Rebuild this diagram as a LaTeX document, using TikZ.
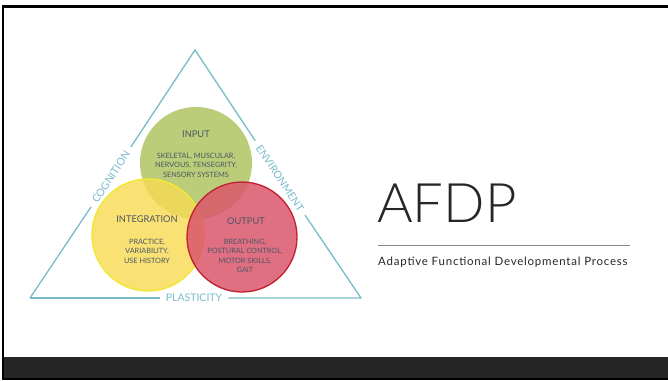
\documentclass[tikz,border=0pt]{standalone}
\usepackage{fontspec}
\setmainfont{Lato}
\newfontfamily\thinfont{Lato Light}
\usetikzlibrary{positioning}

\definecolor{barcolor}{HTML}{262626}
\definecolor{sideblue}{HTML}{78BCCB}
\definecolor{textslate}{HTML}{4A5664}
\definecolor{inputgreen}{HTML}{B4C86A}
\definecolor{integyellow}{HTML}{F8DA52}
\definecolor{integborder}{HTML}{F2E838}
\definecolor{outputred}{HTML}{DA566C}
\definecolor{outputborder}{HTML}{C2202F}
\definecolor{rulegray}{HTML}{8A8A8A}

\tikzset{
	SideLabel/.style = {font=\fontsize{10.5}{11}\selectfont, text=sideblue, inner xsep=6pt, inner ysep=1pt},
	CircleTitle/.style = {font=\fontsize{9.3}{10}\selectfont, text=textslate},
	CircleBody/.style = {font=\fontsize{7.3}{9.5}\selectfont, text=textslate, align=center}
}

\begin{document}
\begin{tikzpicture}[x=1pt,y=-1pt]

		\useasboundingbox (0,0) rectangle (668,380);
		\fill[white] (0,0) rectangle (668,380);

		%frame
		\fill[black] (1.5,5) rectangle (668,7.5);
		\fill[black] (1.5,5) rectangle (4,380);
		\fill[barcolor] (4,357) rectangle (668,378);
		\fill[black] (1.5,378) rectangle (668,380);

		%triangle
		\coordinate (apex) at (195,50);
		\coordinate (left) at (30,298);
		\coordinate (right) at (361,298);

		\node[SideLabel, rotate=56.4] (cognition) at (111,177) {COGNITION};
		\node[SideLabel, rotate=-56.3] (environment) at (280,178) {ENVIRONMENT};
		\node[SideLabel] (plasticity) at (194,298) {PLASTICITY};

		\tikzstyle{EdgeStyle}=[color=sideblue, line width=1.3pt]
		\draw[EdgeStyle] (left) -- (cognition);
		\draw[EdgeStyle] (cognition) -- (apex) -- (environment);
		\draw[EdgeStyle] (environment) -- (right) -- (plasticity);
		\draw[EdgeStyle] (plasticity) -- (left);

		%circles
		\fill[inputgreen, fill opacity=0.9] (196,163) circle (56);
		\filldraw[fill=integyellow, draw=integborder, fill opacity=0.8, line width=1.5pt] (148,235) circle (56);
		\filldraw[fill=outputred, draw=outputborder, fill opacity=0.85, line width=1.3pt] (242,237) circle (55);

		%input
		\node[CircleTitle] (input) at (196,134) {INPUT};
		\node[CircleBody] (inputbody) at (196,165) {SKELETAL, MUSCULAR,\\NERVOUS, TENSEGRITY,\\SENSORY SYSTEMS};

		%integration
		\node[CircleTitle] (integration) at (147,219) {INTEGRATION};
		\node[CircleBody] (integrationbody) at (147,251) {PRACTICE,\\VARIABILITY,\\USE HISTORY};

		%output
		\node[CircleTitle] (output) at (246,221) {OUTPUT};
		\node[CircleBody] (outputbody) at (245,256) {BREATHING,\\POSTURAL CONTROL,\\MOTOR SKILLS,\\GAIT};

		%title
		\node[anchor=base west, inner sep=0pt, font=\thinfont\fontsize{54.5}{55}\selectfont, text=black!85] (afdp) at (377,222) {AFDP};
		\coordinate (rulestart) at (378,245);
		\coordinate (ruleend) at (630,245);
		\draw[rulegray, line width=0.8pt] (rulestart) -- (ruleend);
		\node[anchor=base west, inner sep=0pt, font=\fontsize{11.5}{12}\selectfont\addfontfeatures{LetterSpace=6.8}, text=black!85] (subtitle) at (378,265) {Adaptive Functional Developmental Process};

	\end{tikzpicture}
\end{document}
